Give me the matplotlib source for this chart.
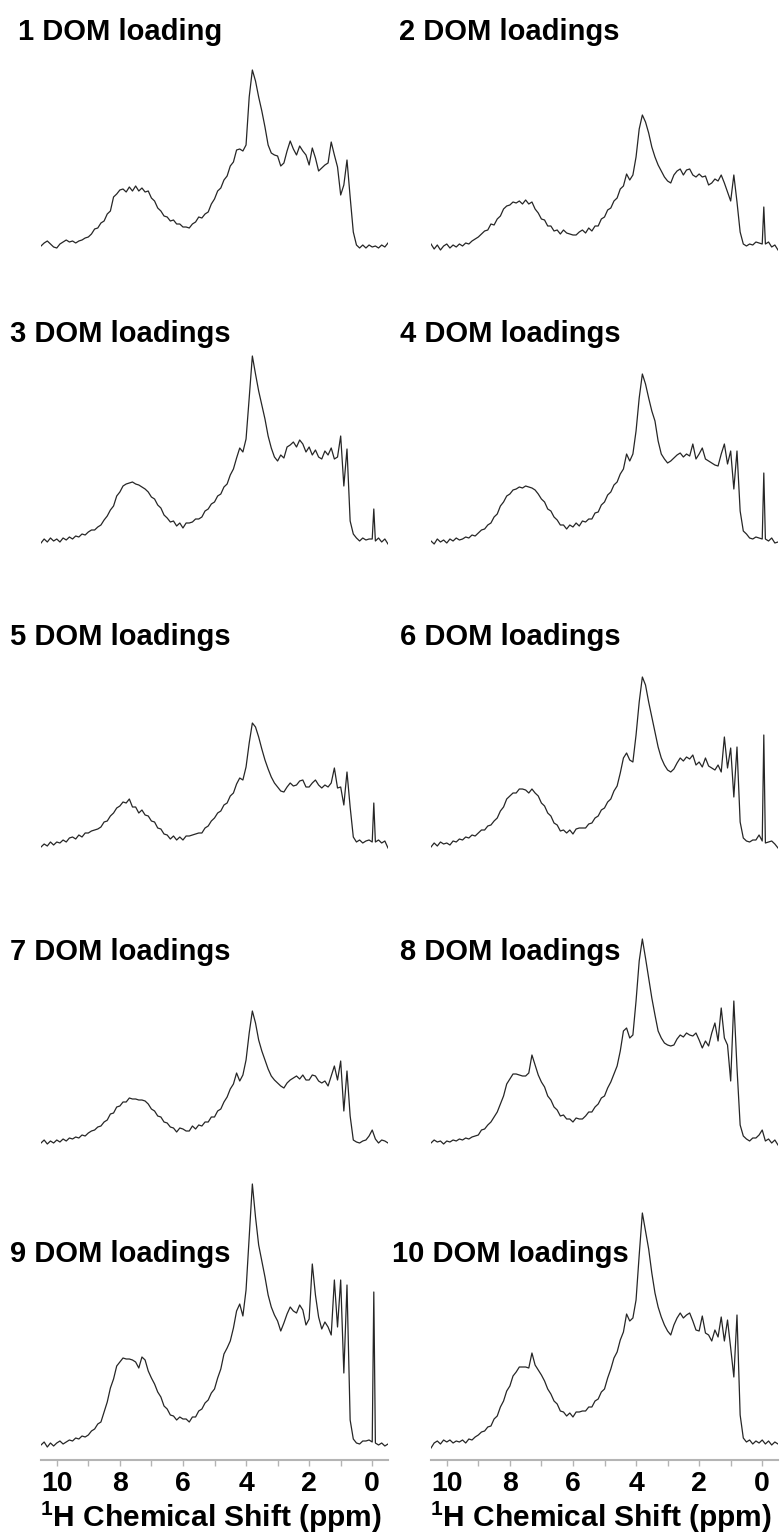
import numpy as np
import matplotlib.pyplot as plt

plt.rcParams['font.family'] = ['Liberation Sans', 'DejaVu Sans']
plt.rcParams['mathtext.fontset'] = 'custom'
plt.rcParams['mathtext.rm'] = 'Liberation Sans'
plt.rcParams['mathtext.bf'] = 'Liberation Sans:bold'

# chemical shift grid, 10.5 -> -0.5 ppm in 0.1 steps
ppm = np.round(np.arange(10.5, -0.55, -0.1), 2)

titles = ["1 DOM loading", "2 DOM loadings", "3 DOM loadings", "4 DOM loadings",
          "5 DOM loadings", "6 DOM loadings", "7 DOM loadings", "8 DOM loadings",
          "9 DOM loadings", "10 DOM loadings"]

# intensities (arbitrary units)
dom1 = [1, 4, 6, 3, 0, -1, 3, 5, 7, 5, 6, 4, 6, 7, 9, 10,
        13, 18, 19, 24, 26, 33, 36, 50, 53, 57,
        58, 55, 60, 56, 61, 56, 59, 55, 56, 49,
        46, 39, 36, 31, 30, 26, 27, 23, 23, 20,
        20, 19, 23, 25, 30, 29, 33, 35, 43, 48,
        56, 59, 67, 71, 81, 85, 97, 98, 96, 102,
        150, 177, 166, 150, 136, 120, 102, 94, 92, 91,
        81, 84, 96, 106, 98, 92, 101, 96, 92, 82,
        99, 89, 76, 79, 82, 84, 105, 92, 80, 52,
        62, 87, 50, 15, 2, -1, 2, -1, 2, 0,
        1, -1, 2, 0, 4]
dom2 = [3, -2, 2, -3, 1, 3, -1, 2, 0, 3, 1, 4, 3, 6, 8, 10,
        13, 16, 17, 23, 22, 28, 31, 38, 41, 42,
        45, 44, 46, 43, 47, 43, 45, 38, 34, 28,
        27, 21, 21, 16, 17, 13, 17, 14, 13, 12,
        12, 15, 17, 14, 19, 16, 21, 21, 28, 30,
        37, 39, 46, 49, 58, 61, 73, 67, 72, 90,
        118, 132, 125, 114, 100, 90, 82, 76, 70, 66,
        64, 72, 76, 78, 72, 77, 78, 72, 70, 73,
        70, 71, 62, 64, 68, 66, 72, 64, 55, 46,
        72, 45, 15, 3, 1, 3, 2, 5, 4, 3,
        3, 5, 0, 2, -3]
dom3 = [-2, 2, -1, 3, 0, 2, -1, 3, 1, 4, 2, 5, 4, 7, 6, 9,
        11, 11, 14, 16, 21, 25, 31, 35, 45, 49,
        55, 57, 58, 59, 57, 56, 54, 52, 49, 44,
        42, 36, 33, 26, 23, 19, 20, 15, 18, 13,
        18, 18, 19, 22, 22, 24, 30, 32, 37, 39,
        45, 47, 54, 57, 66, 72, 83, 93, 89, 102,
        143, 185, 167, 150, 136, 122, 105, 93, 84, 80,
        86, 83, 94, 96, 99, 94, 101, 97, 89, 94,
        86, 91, 84, 82, 90, 86, 93, 82, 84, 105,
        55, 92, 20, 7, 3, 0, 3, 1, 2, 2,
        0, 3, -1, 2, -3]
dom4 = [0, -3, 2, -1, 1, -2, 2, 0, 3, 1, 2, 4, 3, 6, 5, 8,
        11, 12, 16, 18, 24, 27, 35, 39, 45, 47,
        51, 52, 54, 53, 55, 54, 53, 51, 47, 42,
        39, 32, 30, 24, 21, 16, 16, 12, 16, 14,
        18, 15, 20, 19, 22, 22, 28, 29, 36, 39,
        46, 49, 56, 59, 67, 72, 87, 80, 87, 110,
        143, 167, 157, 143, 130, 120, 100, 87, 82, 78,
        80, 83, 86, 88, 84, 87, 85, 97, 82, 87,
        93, 82, 80, 78, 76, 75, 87, 97, 77, 90,
        52, 90, 30, 10, 7, 3, 2, 4, 3, 2,
        2, 0, 3, -2, -1]
dom5 = [-2, 1, -1, 3, 0, 3, 2, 5, 3, 7, 8, 6, 10, 8, 12, 12,
        14, 15, 16, 18, 23, 24, 29, 32, 37, 39,
        43, 42, 46, 38, 38, 32, 35, 30, 29, 24,
        23, 17, 16, 11, 10, 6, 9, 5, 8, 5,
        9, 9, 10, 11, 12, 12, 17, 19, 24, 27,
        32, 34, 40, 42, 49, 52, 61, 67, 65, 78,
        102, 122, 118, 108, 96, 85, 76, 68, 62, 58,
        54, 53, 58, 62, 59, 60, 64, 65, 58, 58,
        62, 65, 60, 57, 60, 58, 62, 77, 57, 58,
        40, 73, 38, 8, 3, 5, 2, 4, 5, 3,
        3, 5, 2, 4, -3]
dom6 = [-2, 2, -1, 3, 1, 2, 0, 4, 3, 6, 5, 8, 7, 10, 9, 12,
        15, 15, 19, 20, 24, 27, 34, 38, 46, 49,
        52, 52, 56, 56, 55, 52, 56, 52, 49, 42,
        39, 32, 29, 22, 20, 14, 15, 12, 15, 11,
        16, 17, 17, 17, 21, 22, 27, 29, 35, 37,
        43, 46, 54, 59, 72, 87, 92, 85, 83, 110,
        143, 168, 160, 143, 128, 113, 98, 87, 80, 75,
        73, 76, 82, 87, 84, 88, 86, 90, 80, 83,
        78, 87, 79, 77, 75, 80, 73, 108, 77, 97,
        48, 98, 23, 7, 4, 3, 5, 5, 10, 4,
        2, 3, 4, 1, -3]
dom7 = [0, 3, -1, 2, 0, 3, 1, 4, 2, 5, 4, 6, 5, 8, 7, 10,
        12, 13, 16, 17, 21, 23, 29, 30, 36, 37,
        41, 41, 45, 44, 44, 43, 43, 42, 39, 34,
        32, 27, 26, 21, 20, 16, 15, 11, 15, 14,
        12, 12, 17, 14, 18, 17, 21, 21, 26, 26,
        32, 34, 41, 46, 54, 59, 70, 62, 68, 83,
        110, 132, 120, 103, 92, 83, 74, 67, 63, 60,
        57, 55, 60, 63, 65, 67, 64, 68, 63, 63,
        68, 67, 62, 60, 62, 57, 67, 77, 63, 82,
        32, 72, 27, 3, 1, 0, 2, 3, 7, 13,
        4, 0, 3, 2, 0]
dom8 = [0, 3, 1, 2, -1, 2, 1, 3, 2, 4, 3, 5, 4, 6, 7, 8,
        13, 14, 18, 21, 26, 31, 39, 47, 59, 64,
        69, 69, 68, 67, 67, 70, 88, 78, 68, 61,
        56, 47, 43, 36, 33, 27, 28, 24, 24, 21,
        25, 24, 24, 27, 31, 31, 36, 39, 45, 47,
        55, 61, 69, 77, 92, 112, 115, 105, 108, 142,
        182, 204, 185, 165, 145, 128, 112, 105, 100, 98,
        97, 98, 104, 108, 106, 110, 108, 107, 110, 103,
        95, 102, 97, 110, 120, 102, 135, 105, 98, 62,
        142, 75, 18, 7, 4, 2, 5, 5, 8, 13,
        2, 4, 0, 3, -2]
dom9 = [0, 3, -2, 2, -1, 2, 4, 1, 3, 5, 4, 7, 6, 9, 8, 10,
        14, 16, 21, 23, 33, 43, 57, 66, 79, 83,
        87, 86, 86, 85, 83, 77, 88, 85, 74, 67,
        61, 53, 48, 39, 36, 30, 29, 25, 28, 26,
        26, 23, 28, 28, 34, 36, 42, 45, 52, 56,
        67, 76, 91, 97, 104, 117, 134, 141, 129, 155,
        208, 261, 228, 200, 184, 168, 150, 138, 130, 124,
        114, 122, 131, 138, 134, 132, 140, 135, 120, 126,
        181, 150, 128, 116, 123, 118, 110, 165, 118, 165,
        72, 160, 25, 6, 2, 1, 4, 4, 5, 3,
        2, 0, 2, -1, 1]
dom10 = [-3, 2, 4, 1, 5, 3, 5, 2, 4, 3, 5, 2, 6, 5, 8, 10,
         13, 14, 18, 19, 26, 29, 38, 44, 54, 59,
         69, 73, 78, 78, 78, 77, 92, 80, 75, 70,
         64, 56, 51, 44, 41, 34, 33, 29, 32, 28,
         33, 33, 34, 34, 38, 38, 44, 46, 53, 56,
         67, 76, 87, 93, 105, 113, 131, 124, 127, 145,
         190, 232, 214, 196, 172, 152, 138, 128, 120, 114,
         110, 120, 127, 132, 127, 130, 132, 124, 115, 114,
         129, 112, 110, 104, 115, 108, 128, 104, 125, 97,
         68, 130, 30, 7, 3, 5, 1, 4, 2, 5,
         1, 4, 0, 3, 1]

spectra = [dom1, dom2, dom3, dom4, dom5, dom6, dom7, dom8, dom9, dom10]

# narrow reference line near 0 ppm (None = not seen)
ref_ppm = -0.05
ref_height = [None, 40, 32, 68, 42, 110, None, None, 153, None]

W, H = 782, 1534
fig = plt.figure(figsize=(W / 100, H / 100), dpi=100)

row_base = [247, 541, 845, 1143, 1445]   # pixel row of each spectrum baseline
title_y = [40, 342, 645, 960, 1262]
title_x = [(18, 399), (10, 400), (10, 400), (10, 400), (10, 392)]
ax_h = 285

for i, (name, vals) in enumerate(zip(titles, spectra)):
    row, col = divmod(i, 2)
    left = 41 if col == 0 else 431
    bottom = row_base[row] + 15
    ax = fig.add_axes([left / W, 1 - bottom / H, 347 / W, ax_h / H])
    ax.set_facecolor('none')

    x = ppm.copy()
    y = np.array(vals, dtype=float)
    if ref_height[i] is not None:
        k = np.searchsorted(-x, -ref_ppm)
        x = np.insert(x, k, ref_ppm)
        y = np.insert(y, k, ref_height[i])

    ax.plot(x, y, color='#262626', lw=0.9)
    ax.set_xlim(10.5, -0.5)
    ax.set_ylim(-15, ax_h - 15)
    ax.set_yticks([])
    for s in ax.spines.values():
        s.set_visible(False)

    if row == 4:
        ax.spines['bottom'].set_visible(True)
        ax.spines['bottom'].set_color('#b4b4b4')
        ax.spines['bottom'].set_linewidth(1.5)
        ax.set_xticks([10, 8, 6, 4, 2, 0])
        ax.set_xticklabels(['10', '8', '6', '4', '2', '0'], fontweight='bold')
        ax.set_xticks([9, 7, 5, 3, 1], minor=True)
        ax.tick_params(axis='x', which='both', direction='out', length=4, width=1,
                       color='#b4b4b4', labelsize=20.5, pad=4)
        ax.set_xlabel(r'$^{\mathbf{1}}$H Chemical Shift (ppm)', fontsize=21.5,
                      fontweight='bold')
        ax.xaxis.set_label_coords(0.49, -39 / ax_h)
    else:
        ax.set_xticks([])

    fig.text(title_x[row][col] / W, 1 - title_y[row] / H, name,
             fontsize=21, fontweight='bold', va='baseline', ha='left')

fig.savefig('out.png', dpi=100)
